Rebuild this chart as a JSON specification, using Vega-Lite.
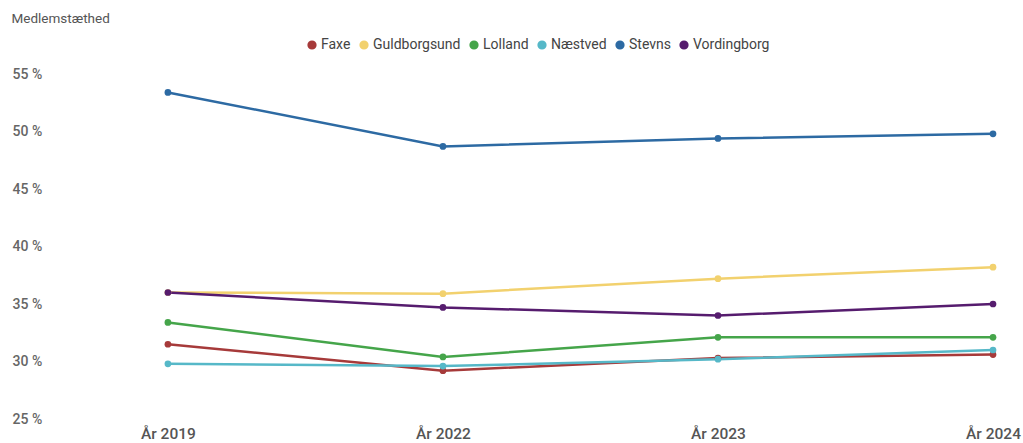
{
  "$schema": "https://vega.github.io/schema/vega-lite/v6.json",
  "width": 945,
  "height": 345,
  "autosize": {"type": "none"},
  "padding": {"left": 60, "top": 74, "right": 18, "bottom": 24},
  "background": "white",
  "config": {"view": {"stroke": null}, "font": "Roboto"},
  "data": {"values": [
    {"kommune": "Faxe", "aar": "År 2019", "v": 31.5},
    {"kommune": "Faxe", "aar": "År 2022", "v": 29.2},
    {"kommune": "Faxe", "aar": "År 2023", "v": 30.3},
    {"kommune": "Faxe", "aar": "År 2024", "v": 30.6},
    {"kommune": "Guldborgsund", "aar": "År 2019", "v": 36.0},
    {"kommune": "Guldborgsund", "aar": "År 2022", "v": 35.9},
    {"kommune": "Guldborgsund", "aar": "År 2023", "v": 37.2},
    {"kommune": "Guldborgsund", "aar": "År 2024", "v": 38.2},
    {"kommune": "Lolland", "aar": "År 2019", "v": 33.4},
    {"kommune": "Lolland", "aar": "År 2022", "v": 30.4},
    {"kommune": "Lolland", "aar": "År 2023", "v": 32.1},
    {"kommune": "Lolland", "aar": "År 2024", "v": 32.1},
    {"kommune": "Næstved", "aar": "År 2019", "v": 29.8},
    {"kommune": "Næstved", "aar": "År 2022", "v": 29.6},
    {"kommune": "Næstved", "aar": "År 2023", "v": 30.2},
    {"kommune": "Næstved", "aar": "År 2024", "v": 31.0},
    {"kommune": "Stevns", "aar": "År 2019", "v": 53.4},
    {"kommune": "Stevns", "aar": "År 2022", "v": 48.7},
    {"kommune": "Stevns", "aar": "År 2023", "v": 49.4},
    {"kommune": "Stevns", "aar": "År 2024", "v": 49.8},
    {"kommune": "Vordingborg", "aar": "År 2019", "v": 36.0},
    {"kommune": "Vordingborg", "aar": "År 2022", "v": 34.7},
    {"kommune": "Vordingborg", "aar": "År 2023", "v": 34.0},
    {"kommune": "Vordingborg", "aar": "År 2024", "v": 35.0}
  ]},
  "mark": {"type": "line", "point": {"filled": true, "size": 45, "opacity": 1}, "strokeWidth": 2.5},
  "encoding": {
    "x": {
      "field": "aar", "type": "ordinal", "sort": null,
      "scale": {"type": "point", "padding": 0.218, "align": 0.9},
      "axis": {"title": null, "labelAngle": 0, "domain": false, "ticks": false, "grid": false,
               "labelFontSize": 15.5, "labelColor": "#555", "labelPadding": 7, "labelFontWeight": 500}
    },
    "y": {
      "field": "v", "type": "quantitative",
      "scale": {"domain": [25, 55], "nice": false, "zero": false},
      "axis": {"values": [25, 30, 35, 40, 45, 50, 55], "labelExpr": "datum.value + ' %'",
               "domain": false, "ticks": false, "grid": false,
               "labelFontSize": 14, "labelColor": "#666", "labelAlign": "left", "labelPadding": 48, "labelFontWeight": 500,
               "title": "Medlemstæthed", "titleAngle": 0, "titleAlign": "left", "titleBaseline": "middle",
               "titleX": -49, "titleY": -56, "titleFontSize": 13.5, "titleFontWeight": "normal", "titleColor": "#555"}
    },
    "color": {
      "field": "kommune", "type": "nominal",
      "scale": {
        "domain": ["Faxe", "Guldborgsund", "Lolland", "Næstved", "Stevns", "Vordingborg"],
        "range": ["#a63a3a", "#f2d16e", "#45a54a", "#56b8c8", "#2d6aa3", "#561c6e"]
      },
      "legend": {"orient": "none", "legendX": 245, "legendY": -36, "direction": "horizontal",
                 "title": null, "symbolType": "circle", "symbolSize": 60, "symbolOpacity": 1,
                 "labelFontSize": 14, "labelColor": "#444", "columnPadding": 6, "symbolOffset": 0, "labelOffset": 2}
    }
  }
}
